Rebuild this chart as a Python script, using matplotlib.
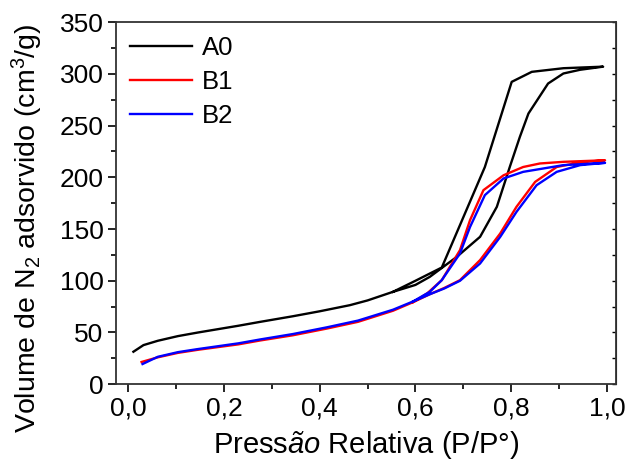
import matplotlib
matplotlib.use('Agg')
from matplotlib import pyplot as plt
from matplotlib.ticker import MultipleLocator, FuncFormatter

plt.rcParams['font.family'] = ['Liberation Sans', 'DejaVu Sans']
plt.rcParams['mathtext.fontset'] = 'custom'
plt.rcParams['mathtext.rm'] = 'Liberation Sans'
plt.rcParams['mathtext.it'] = 'Liberation Sans:italic'

# A0 isoterma (adsorção + dessorção)
a0_ads_x = [0.011, 0.032, 0.062, 0.104, 0.146, 0.23, 0.276, 0.344, 0.40, 0.463, 0.50, 0.553,
            0.60, 0.63, 0.686, 0.735, 0.77, 0.797, 0.818, 0.836, 0.877, 0.909, 0.944, 0.992]
a0_ads_y = [31.4, 37.8, 42.0, 46.5, 50.0, 56.5, 60.3, 65.7, 70.5, 76.4, 81.0, 89.3,
            96.0, 103.8, 123.0, 142.5, 171.5, 210.0, 239.0, 261.7, 290.7, 300.4, 304.0, 307.0]
a0_des_x = [0.992, 0.909, 0.843, 0.801, 0.745, 0.655, 0.63, 0.60, 0.553]
a0_des_y = [307.0, 305.5, 302.0, 292.3, 210.0, 112.8, 107.0, 100.0, 89.3]

# B1
b1_ads_x = [0.028, 0.062, 0.104, 0.146, 0.23, 0.276, 0.344, 0.415, 0.48, 0.553, 0.595,
            0.63, 0.66, 0.693, 0.735, 0.777, 0.811, 0.85, 0.895, 0.944, 0.996]
b1_ads_y = [21.5, 26.0, 30.3, 33.3, 38.5, 42.3, 47.3, 53.8, 60.3, 71.0, 79.3,
            87.0, 93.0, 100.6, 120.0, 145.7, 171.5, 195.6, 210.0, 214.5, 216.5]
b1_des_x = [0.996, 0.909, 0.86, 0.825, 0.784, 0.742, 0.714, 0.693, 0.655, 0.625, 0.595]
b1_des_y = [216.5, 215.0, 213.4, 210.0, 202.0, 187.6, 158.6, 129.6, 100.6, 88.0, 79.3]

# B2
b2_ads_x = [0.03, 0.062, 0.104, 0.146, 0.23, 0.276, 0.344, 0.415, 0.48, 0.553, 0.595,
            0.63, 0.66, 0.693, 0.735, 0.777, 0.811, 0.853, 0.895, 0.944, 0.996]
b2_ads_y = [19.5, 26.5, 31.0, 34.0, 39.5, 43.3, 48.5, 55.0, 61.5, 72.0, 80.0,
            87.0, 92.5, 100.0, 116.7, 142.4, 166.6, 192.4, 205.3, 211.8, 214.0]
b2_des_x = [0.996, 0.909, 0.825, 0.784, 0.745, 0.714, 0.693, 0.655, 0.63, 0.595]
b2_des_y = [214.0, 211.8, 205.3, 198.9, 182.8, 152.0, 126.4, 100.6, 89.3, 80.0]

fig = plt.figure(figsize=(6.28, 4.72), dpi=100)
ax = fig.add_axes([0.185, 0.186, 0.796, 0.767])

ax.plot(a0_ads_x + a0_des_x, a0_ads_y + a0_des_y, color='black', lw=1.7, label='A0')
ax.plot(b1_ads_x + b1_des_x, b1_ads_y + b1_des_y, color='#ff0000', lw=1.7, label='B1')
ax.plot(b2_ads_x + b2_des_x, b2_ads_y + b2_des_y, color='#0000ff', lw=1.7, label='B2')

ax.set_xlim(-0.025, 1.019)
ax.set_ylim(0, 350)
ax.xaxis.set_major_locator(MultipleLocator(0.2))
ax.xaxis.set_minor_locator(MultipleLocator(0.1))
ax.yaxis.set_major_locator(MultipleLocator(50))
ax.yaxis.set_minor_locator(MultipleLocator(25))
ax.xaxis.set_major_formatter(FuncFormatter(lambda v, p: f'{v:.1f}'.replace('.', ',')))

ax.tick_params(which='both', direction='out', labelsize=19, width=1.2, top=False, right=False)
ax.tick_params(which='major', length=6, pad=3)
ax.tick_params(which='minor', length=3.5)
for s in ax.spines.values():
    s.set_linewidth(1.3)
    s.set_color('#333333')
# pequenos ticks internos no eixo direito
sec = ax.secondary_yaxis('right')
sec.yaxis.set_major_locator(MultipleLocator(25))
sec.tick_params(direction='in', length=3, width=1, labelright=False)

ax.set_xlabel(r'Press$\mathit{ão}$ Relativa (P/P°)', fontsize=21, labelpad=6)
ax.set_ylabel(r'Volume de N$_2$ adsorvido (cm$^3$/g)', fontsize=20.5)
ax.yaxis.set_label_coords(-0.142, 0.43)

ax.legend(loc='upper left', fontsize=18.5, frameon=False, handlelength=2.4,
          borderaxespad=0.25, labelspacing=0.38, handletextpad=0.4, borderpad=0.3)

fig.savefig('out.png', dpi=100)
